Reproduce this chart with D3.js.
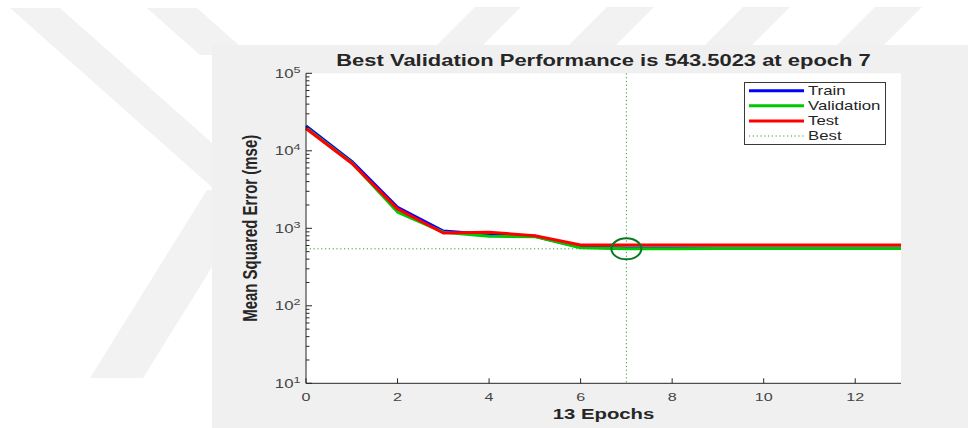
<!DOCTYPE html>
<html>
<head>
<meta charset="utf-8">
<script src="https://cdn.jsdelivr.net/npm/d3@7.9.0/dist/d3.min.js"></script>
<style>
  html, body { margin: 0; padding: 0; background: #fff; }
  svg { display: block; font-family: "Liberation Sans", Arial, Helvetica, sans-serif; }
</style>
</head>
<body>
<svg id="chart" width="968" height="428"></svg>
<script>
// values
const epochs = d3.range(0, 14);
const trainMse = [21000, 7300, 1870, 920, 830, 790, 570, 556, 556, 555, 555, 555, 555, 555];
const validationMse = [19800, 7000, 1620, 890, 790, 780, 560, 543.5023, 546, 547, 548, 548, 548, 548];
const testMse = [19400, 6900, 1780, 870, 890, 800, 610, 610, 610, 610, 610, 610, 610, 610];
const bestEpoch = 7;
const bestValue = 543.5023;
const xTicks = [0, 2, 4, 6, 8, 10, 12];
const yDecades = [1, 2, 3, 4, 5];
const legendLabels = ['Train', 'Validation', 'Test', 'Best'];
const seriesColors = ['#0000ff', '#00c800', '#ff0000'];

const SX = 1.4; // the picture is stretched sideways
const axisColor = '#262626';
const bestColor = '#3a9a3a';

const svg = d3.select('#chart');

// faint watermark in the page behind the figure
const wm = svg.append('g').attr('fill', '#f2f2f2');
[
  [[10, 8], [60, 8], [300, 221], [250, 221]],
  [[90, 378], [143, 378], [260, 190], [207, 190]],
  [[147, 8], [197, 8], [250, 55], [200, 55]],
  [[475, 7], [521, 7], [483, 45], [437, 45]],
  [[607, 7], [654, 7], [616, 45], [569, 45]],
  [[743, 7], [790, 7], [752, 45], [705, 45]],
  [[875, 7], [922, 7], [884, 45], [837, 45]]
].forEach(p => wm.append('polygon').attr('points', p.map(d => d.join(',')).join(' ')));

// figure background
svg.append('rect').attr('x', 212).attr('y', 45).attr('width', 756).attr('height', 383).attr('fill', '#f0f0f0');

const x = d3.scaleLinear().domain([0, 13]).range([306, 901]);
const y = d3.scaleLog().domain([10, 1e5]).range([383.3, 73.3]);

svg.append('rect')
  .attr('x', x(0)).attr('y', y(1e5))
  .attr('width', x(13) - x(0)).attr('height', y(10) - y(1e5))
  .attr('fill', '#fff');

function stretchedText(g, px, py, str, size, weight, anchor) {
  return g.append('text')
    .attr('transform', `translate(${px},${py}) scale(${SX},1)`)
    .attr('text-anchor', anchor || 'middle')
    .attr('font-size', size)
    .attr('font-weight', weight || 'normal')
    .attr('fill', axisColor)
    .text(str);
}

// best lines
svg.append('line')
  .attr('x1', x(0)).attr('x2', x(13))
  .attr('y1', y(bestValue)).attr('y2', y(bestValue))
  .attr('stroke', bestColor).attr('stroke-width', 1).attr('stroke-dasharray', '1.2,2.6');
svg.append('line')
  .attr('x1', x(bestEpoch)).attr('x2', x(bestEpoch))
  .attr('y1', y(1e5)).attr('y2', y(10))
  .attr('stroke', bestColor).attr('stroke-width', 1).attr('stroke-dasharray', '1.2,2.6');

// series
const line = d3.line().x((d, i) => x(epochs[i])).y(d => y(d));
[trainMse, validationMse, testMse].forEach((s, i) => {
  svg.append('path')
    .attr('d', line(s))
    .attr('fill', 'none')
    .attr('stroke', seriesColors[i])
    .attr('stroke-width', 3)
    .attr('stroke-linejoin', 'round');
});

svg.append('ellipse')
  .attr('cx', x(bestEpoch)).attr('cy', y(bestValue))
  .attr('rx', 15).attr('ry', 10.5)
  .attr('fill', 'none').attr('stroke', '#0a7a22').attr('stroke-width', 2);

// x axis
const xAxis = svg.append('g');
xAxis.append('line')
  .attr('x1', x(0)).attr('x2', x(13)).attr('y1', y(10)).attr('y2', y(10))
  .attr('stroke', axisColor);
xTicks.forEach(t => {
  xAxis.append('line')
    .attr('x1', x(t)).attr('x2', x(t)).attr('y1', y(10)).attr('y2', y(10) - 5)
    .attr('stroke', axisColor);
  stretchedText(xAxis, x(t), y(10) + 17.8, String(t), 11.5).attr('fill', '#444');
});

// y axis
const yAxis = svg.append('g');
yAxis.append('line')
  .attr('x1', x(0)).attr('x2', x(0)).attr('y1', y(10)).attr('y2', y(1e5))
  .attr('stroke', axisColor);
yDecades.forEach(k => {
  const v = Math.pow(10, k);
  yAxis.append('line')
    .attr('x1', x(0)).attr('x2', x(0) + 6).attr('y1', y(v)).attr('y2', y(v))
    .attr('stroke', axisColor);
  if (k < 5) {
    d3.range(2, 10).forEach(m => {
      yAxis.append('line')
        .attr('x1', x(0)).attr('x2', x(0) + 3.5).attr('y1', y(m * v)).attr('y2', y(m * v))
        .attr('stroke', axisColor);
    });
  }
  const t = stretchedText(yAxis, 300.5, y(v) + 4.5, '', 12, 'normal', 'end').attr('fill', '#444');
  t.append('tspan').text('10');
  t.append('tspan').attr('font-size', 9).attr('dy', -5).text(String(k));
});

// titles
stretchedText(svg, (x(0) + x(13)) / 2, 65.8, 'Best Validation Performance is 543.5023 at epoch 7', 15.7, 'bold');
stretchedText(svg, (x(0) + x(13)) / 2, 418.8, '13 Epochs', 14.5, 'bold');
svg.append('text')
  .attr('transform', `translate(257,${(y(10) + y(1e5)) / 2}) scale(${SX},1) rotate(-90)`)
  .attr('text-anchor', 'middle')
  .attr('font-size', 14)
  .attr('font-weight', 'bold')
  .attr('fill', axisColor)
  .attr('textLength', 187)
  .attr('lengthAdjust', 'spacingAndGlyphs')
  .text('Mean Squared Error  (mse)');

// legend
const legend = svg.append('g');
legend.append('rect')
  .attr('x', 744.5).attr('y', 82.5).attr('width', 141).attr('height', 62)
  .attr('fill', '#fff').attr('stroke', '#3a3a3a').attr('stroke-width', 1);
legendLabels.forEach((lab, i) => {
  const ly = 90.7 + i * 15.1;
  const ln = legend.append('line')
    .attr('x1', 749).attr('x2', 804).attr('y1', ly).attr('y2', ly);
  if (i < 3) {
    ln.attr('stroke', seriesColors[i]).attr('stroke-width', 3);
  } else {
    ln.attr('stroke', bestColor).attr('stroke-width', 1).attr('stroke-dasharray', '1.2,2.6');
  }
  stretchedText(legend, 808, ly + 4.3, lab, 12, 'normal', 'start');
});
</script>
</body>
</html>
